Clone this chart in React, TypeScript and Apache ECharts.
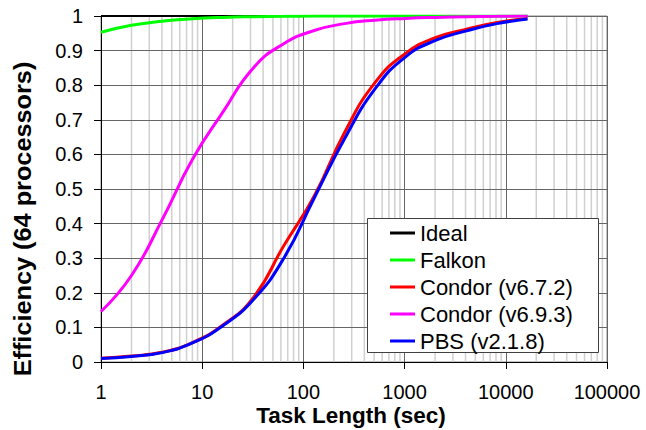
import React, { useEffect, useRef } from "react";
import * as echarts from "echarts";

const taskLength = [1, 2, 4, 8, 16, 32, 64, 128, 256, 512, 1024, 2048, 4096, 8192, 16384];
const ideal = [1, 1, 1, 1, 1, 1, 1, 1, 1, 1, 1, 1, 1, 1, 1];
const falkon = [0.953, 0.973, 0.985, 0.992, 0.996, 0.998, 0.999, 1, 1, 1, 1, 1, 1, 1, 1];
const condor672 = [0.011, 0.017, 0.028, 0.056, 0.107, 0.186, 0.336, 0.48, 0.664, 0.808, 0.892, 0.938, 0.962, 0.981, 0.993];
const condor693 = [0.146, 0.25, 0.41, 0.585, 0.722, 0.85, 0.92, 0.958, 0.978, 0.988, 0.993, 0.996, 0.998, 0.999, 1];
const pbs = [0.010, 0.016, 0.027, 0.055, 0.105, 0.18, 0.30, 0.474, 0.646, 0.79, 0.882, 0.93, 0.957, 0.978, 0.991];

const seriesNames = ["Ideal", "Falkon", "Condor (v6.7.2)", "Condor (v6.9.3)", "PBS (v2.1.8)"];
const seriesColors = ["#000000", "#00ff00", "#ff0000", "#ff00ff", "#0000ff"];
const seriesValues = [ideal, falkon, condor672, condor693, pbs];

const decades = [1, 10, 100, 1000, 10000];
const minorMultipliers = [2, 3, 4, 5, 6, 7, 8, 9];

const FONT = "'Liberation Sans', Arial, sans-serif";

export default function App() {
  const ref = useRef<HTMLDivElement>(null);
  useEffect(() => {
    if (!ref.current) return;
    const chart = echarts.init(ref.current, undefined, { renderer: "svg" });

    const minorData: any[] = [];
    decades.forEach((d) => {
      minorMultipliers.forEach((m) => {
        minorData.push([d * m, 0], [d * m, 1], [d * m, "-"]);
      });
    });

    const curves = seriesNames.map((name, i) => ({
      name,
      type: "line",
      data: taskLength.map((x, j) => [x, seriesValues[i][j]]),
      smooth: i === 0 ? false : 0.5,
      symbol: "none",
      z: 2,
      lineStyle: { color: seriesColors[i], width: i === 0 ? 2 : 3 },
      itemStyle: { color: seriesColors[i] },
    }));

    chart.setOption({
      animation: false,
      backgroundColor: "#ffffff",
      grid: {
        left: 101,
        right: 39,
        top: 16,
        bottom: 68,
        show: true,
        borderColor: "#888888",
        borderWidth: 1,
        backgroundColor: "transparent",
      },
      xAxis: {
        type: "log",
        logBase: 10,
        min: 1,
        max: 100000,
        z: 1,
        axisLine: { show: true, lineStyle: { color: "#000", width: 1 } },
        axisTick: { show: true, inside: false, length: 7, lineStyle: { color: "#000" } },
        axisLabel: {
          color: "#000",
          fontSize: 20,
          lineHeight: 18,
          fontFamily: FONT,
          margin: 21,
          formatter: (v: number) => String(Math.round(v)),
        },
        splitLine: { show: true, lineStyle: { color: "#666666", width: 1 } },
        minorTick: { show: false },
      },
      yAxis: {
        type: "value",
        min: 0,
        max: 1,
        interval: 0.1,
        z: 1,
        axisLine: { show: true, lineStyle: { color: "#000", width: 1 } },
        axisTick: { show: true, inside: false, length: 7, lineStyle: { color: "#000" } },
        axisLabel: {
          color: "#000",
          fontSize: 20,
          fontFamily: FONT,
          margin: 18,
        },
        splitLine: { show: true, lineStyle: { color: "#666666", width: 1 } },
      },
      legend: {
        data: seriesNames,
        orient: "vertical",
        left: 390,
        top: 222,
        padding: 0,
        itemGap: 5,
        itemWidth: 25,
        itemHeight: 3,
        icon: "rect",
        z: 5,
        selectedMode: false,
        textStyle: { color: "#000", fontSize: 22, fontFamily: FONT },
      },
      graphic: [
        {
          type: "rect",
          z: 4,
          shape: { x: 367.5, y: 218.5, width: 231, height: 134 },
          style: { fill: "#ffffff", stroke: "#404040", lineWidth: 1 },
        },
        {
          type: "text",
          x: 23,
          y: 219,
          rotation: Math.PI / 2,
          scaleX: 1.1,
          style: {
            text: "Efficiency (64 processors)",
            fontSize: 23,
            fontWeight: "bold",
            fontFamily: FONT,
            fill: "#000",
            align: "center",
            verticalAlign: "middle",
          },
        },
        {
          type: "text",
          x: 351,
          y: 415,
          style: {
            text: "Task Length (sec)",
            fontSize: 22.5,
            fontWeight: "bold",
            fontFamily: FONT,
            fill: "#000",
            align: "center",
            verticalAlign: "middle",
          },
        },
      ],
      series: [
        {
          name: "",
          type: "line",
          data: minorData,
          symbol: "none",
          silent: true,
          connectNulls: false,
          z: 0,
          lineStyle: { color: "#d0d0d0", width: 1.5 },
        },
        ...curves,
      ],
    });
    return () => chart.dispose();
  }, []);
  return (
    <div
      ref={ref}
      style={{ position: "fixed", left: 0, top: 0, width: 646, height: 430, background: "#fff" }}
    />
  );
}
